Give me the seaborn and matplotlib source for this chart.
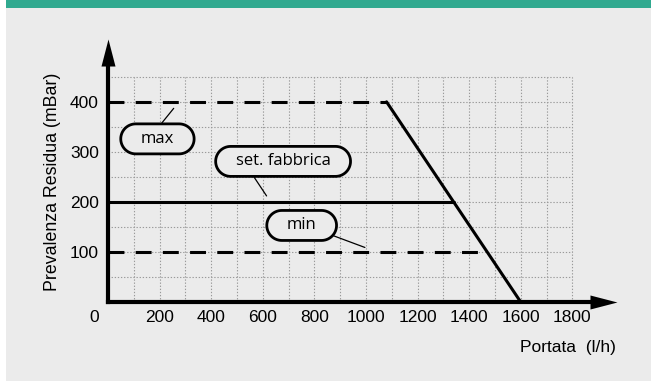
import matplotlib
matplotlib.use("Agg")
import numpy as np
import matplotlib.pyplot as plt
import seaborn as sns
from matplotlib.patches import Rectangle
from matplotlib.path import Path
from matplotlib.transforms import ScaledTranslation

# data
x_ticks = [0, 200, 400, 600, 800, 1000, 1200, 1400, 1600, 1800]
y_ticks = [100, 200, 300, 400]
grid_x = [100, 200, 300, 400, 500, 600, 700, 800, 900, 1000,
          1100, 1200, 1300, 1400, 1500, 1600, 1700, 1800]
grid_y = [50, 100, 150, 200, 250, 300, 350, 400, 450]

max_x = [0, 1080]
max_y = [400, 400]
set_x = [0, 1340]
set_y = [200, 200]
min_x = [0, 1470]
min_y = [100, 100]
curve_x = [1080, 1600]
curve_y = [400, 0]

labels = ["max", "set. fabbrica", "min"]
label_pos = [(192, 326), (679, 281), (751, 153)]
label_target = [(255, 387), (615, 212), (996, 109)]
label_relpos = [(0.44, 1.0), (0.14, 0.0), (1.0, 0.25)]

BG = "#ebebeb"
GREEN = "#30a98f"

sns.set_style("white")
plt.rcParams["font.family"] = ["Liberation Sans", "DejaVu Sans"]
plt.rcParams["text.color"] = "black"

fig = plt.figure(figsize=(6.51, 3.81), dpi=100, facecolor=BG)
# white strip on the left and green band on top
fig.patches.append(Rectangle((0, 0), 6 / 651, 1, transform=fig.transFigure,
                             facecolor="white", edgecolor="none", zorder=-5))
fig.patches.append(Rectangle((6 / 651, 1 - 8 / 381), 1, 8 / 381,
                             transform=fig.transFigure, facecolor=GREEN,
                             edgecolor="none", zorder=-5))

ax = fig.add_axes([107.9 / 651, 79 / 381, 508.8 / 651, 262.7 / 381])
ax.set_facecolor("none")
ax.set_xlim(0, 1972)
ax.set_ylim(0, 525)

# dotted grid, bounded to the chart area
ax.vlines(grid_x, 0, 450, colors="#9a9a9a", lw=0.8,
          linestyles=(0, (1.2, 1.6)), zorder=1)
ax.hlines(grid_y, 0, 1800, colors="#9a9a9a", lw=0.8,
          linestyles=(0, (1.2, 1.6)), zorder=1)

# curves
dash = (0, (5.2, 3.7))
sns.lineplot(x=max_x, y=max_y, ax=ax, color="black", lw=2.2, linestyle=dash, zorder=3)
sns.lineplot(x=set_x, y=set_y, ax=ax, color="black", lw=2.2, zorder=3)
sns.lineplot(x=min_x, y=min_y, ax=ax, color="black", lw=2.2, linestyle=dash, zorder=3)
sns.lineplot(x=curve_x, y=curve_y, ax=ax, color="black", lw=2.2, zorder=3)

# axes with arrow heads
for side in ["top", "right"]:
    ax.spines[side].set_visible(False)
for side in ["left", "bottom"]:
    ax.spines[side].set_linewidth(3)
    ax.spines[side].set_color("black")
    ax.spines[side].set_zorder(4)
ax.spines["bottom"].set_bounds(0, 1866)
ax.spines["left"].set_bounds(0, 472)
ax.plot(1, 0, marker=[(-27, -7), (0, 0), (-27, 7)], ms=38.9, mew=0,
        color="black", transform=ax.get_yaxis_transform(), clip_on=False, zorder=5)
ax.plot(0, 1, marker=[(-7, -27), (0, 0), (7, -27)], ms=38.9, mew=0,
        color="black", transform=ax.get_xaxis_transform(), clip_on=False, zorder=5)

ax.set_xticks(x_ticks)
ax.set_yticks(y_ticks)
ax.tick_params(axis="both", length=0, labelsize=12.5, labelcolor="black")
ax.tick_params(axis="x", pad=6)
ax.tick_params(axis="y", pad=6.5)
zero = ax.get_xticklabels()[0]
zero.set_transform(zero.get_transform() + ScaledTranslation(-0.14, 0, fig.dpi_scale_trans))

fig.text(52.5 / 651, 1 - 182 / 381, "Prevalenza Residua (mBar)", rotation=90,
         ha="center", va="center", fontsize=12.8, color="black")
fig.text(568 / 651, 1 - 347.5 / 381, "Portata  (l/h)", ha="center", va="center",
         fontsize=12.5, color="black")


# pill shaped callout box: fixed height, fixed side padding, round ends
def pill(x0, y0, width, height, mutation_size):
    h = 30
    w = width + 40
    r = h / 2
    cx = x0 + width / 2
    cy = y0 + height / 2
    t_right = np.linspace(-np.pi / 2, np.pi / 2, 30)
    t_left = np.linspace(np.pi / 2, 3 * np.pi / 2, 30)
    right = np.column_stack([cx + w / 2 - r + r * np.cos(t_right), cy + r * np.sin(t_right)])
    left = np.column_stack([cx - w / 2 + r + r * np.cos(t_left), cy + r * np.sin(t_left)])
    verts = np.vstack([right, left, right[:1]])
    return Path(verts, closed=True)


for text, pos, target, rel in zip(labels, label_pos, label_target, label_relpos):
    ax.annotate(text, xy=target, xytext=pos, ha="center", va="center",
                fontsize=12, family=["Open Sans", "DejaVu Sans"], color="black",
                zorder=6,
                bbox=dict(boxstyle=pill, fc=BG, ec="black", lw=2),
                arrowprops=dict(arrowstyle="-", color="black", lw=0.9,
                                shrinkA=0, shrinkB=0, relpos=rel))

fig.savefig("out.png", dpi=100, facecolor=BG)
